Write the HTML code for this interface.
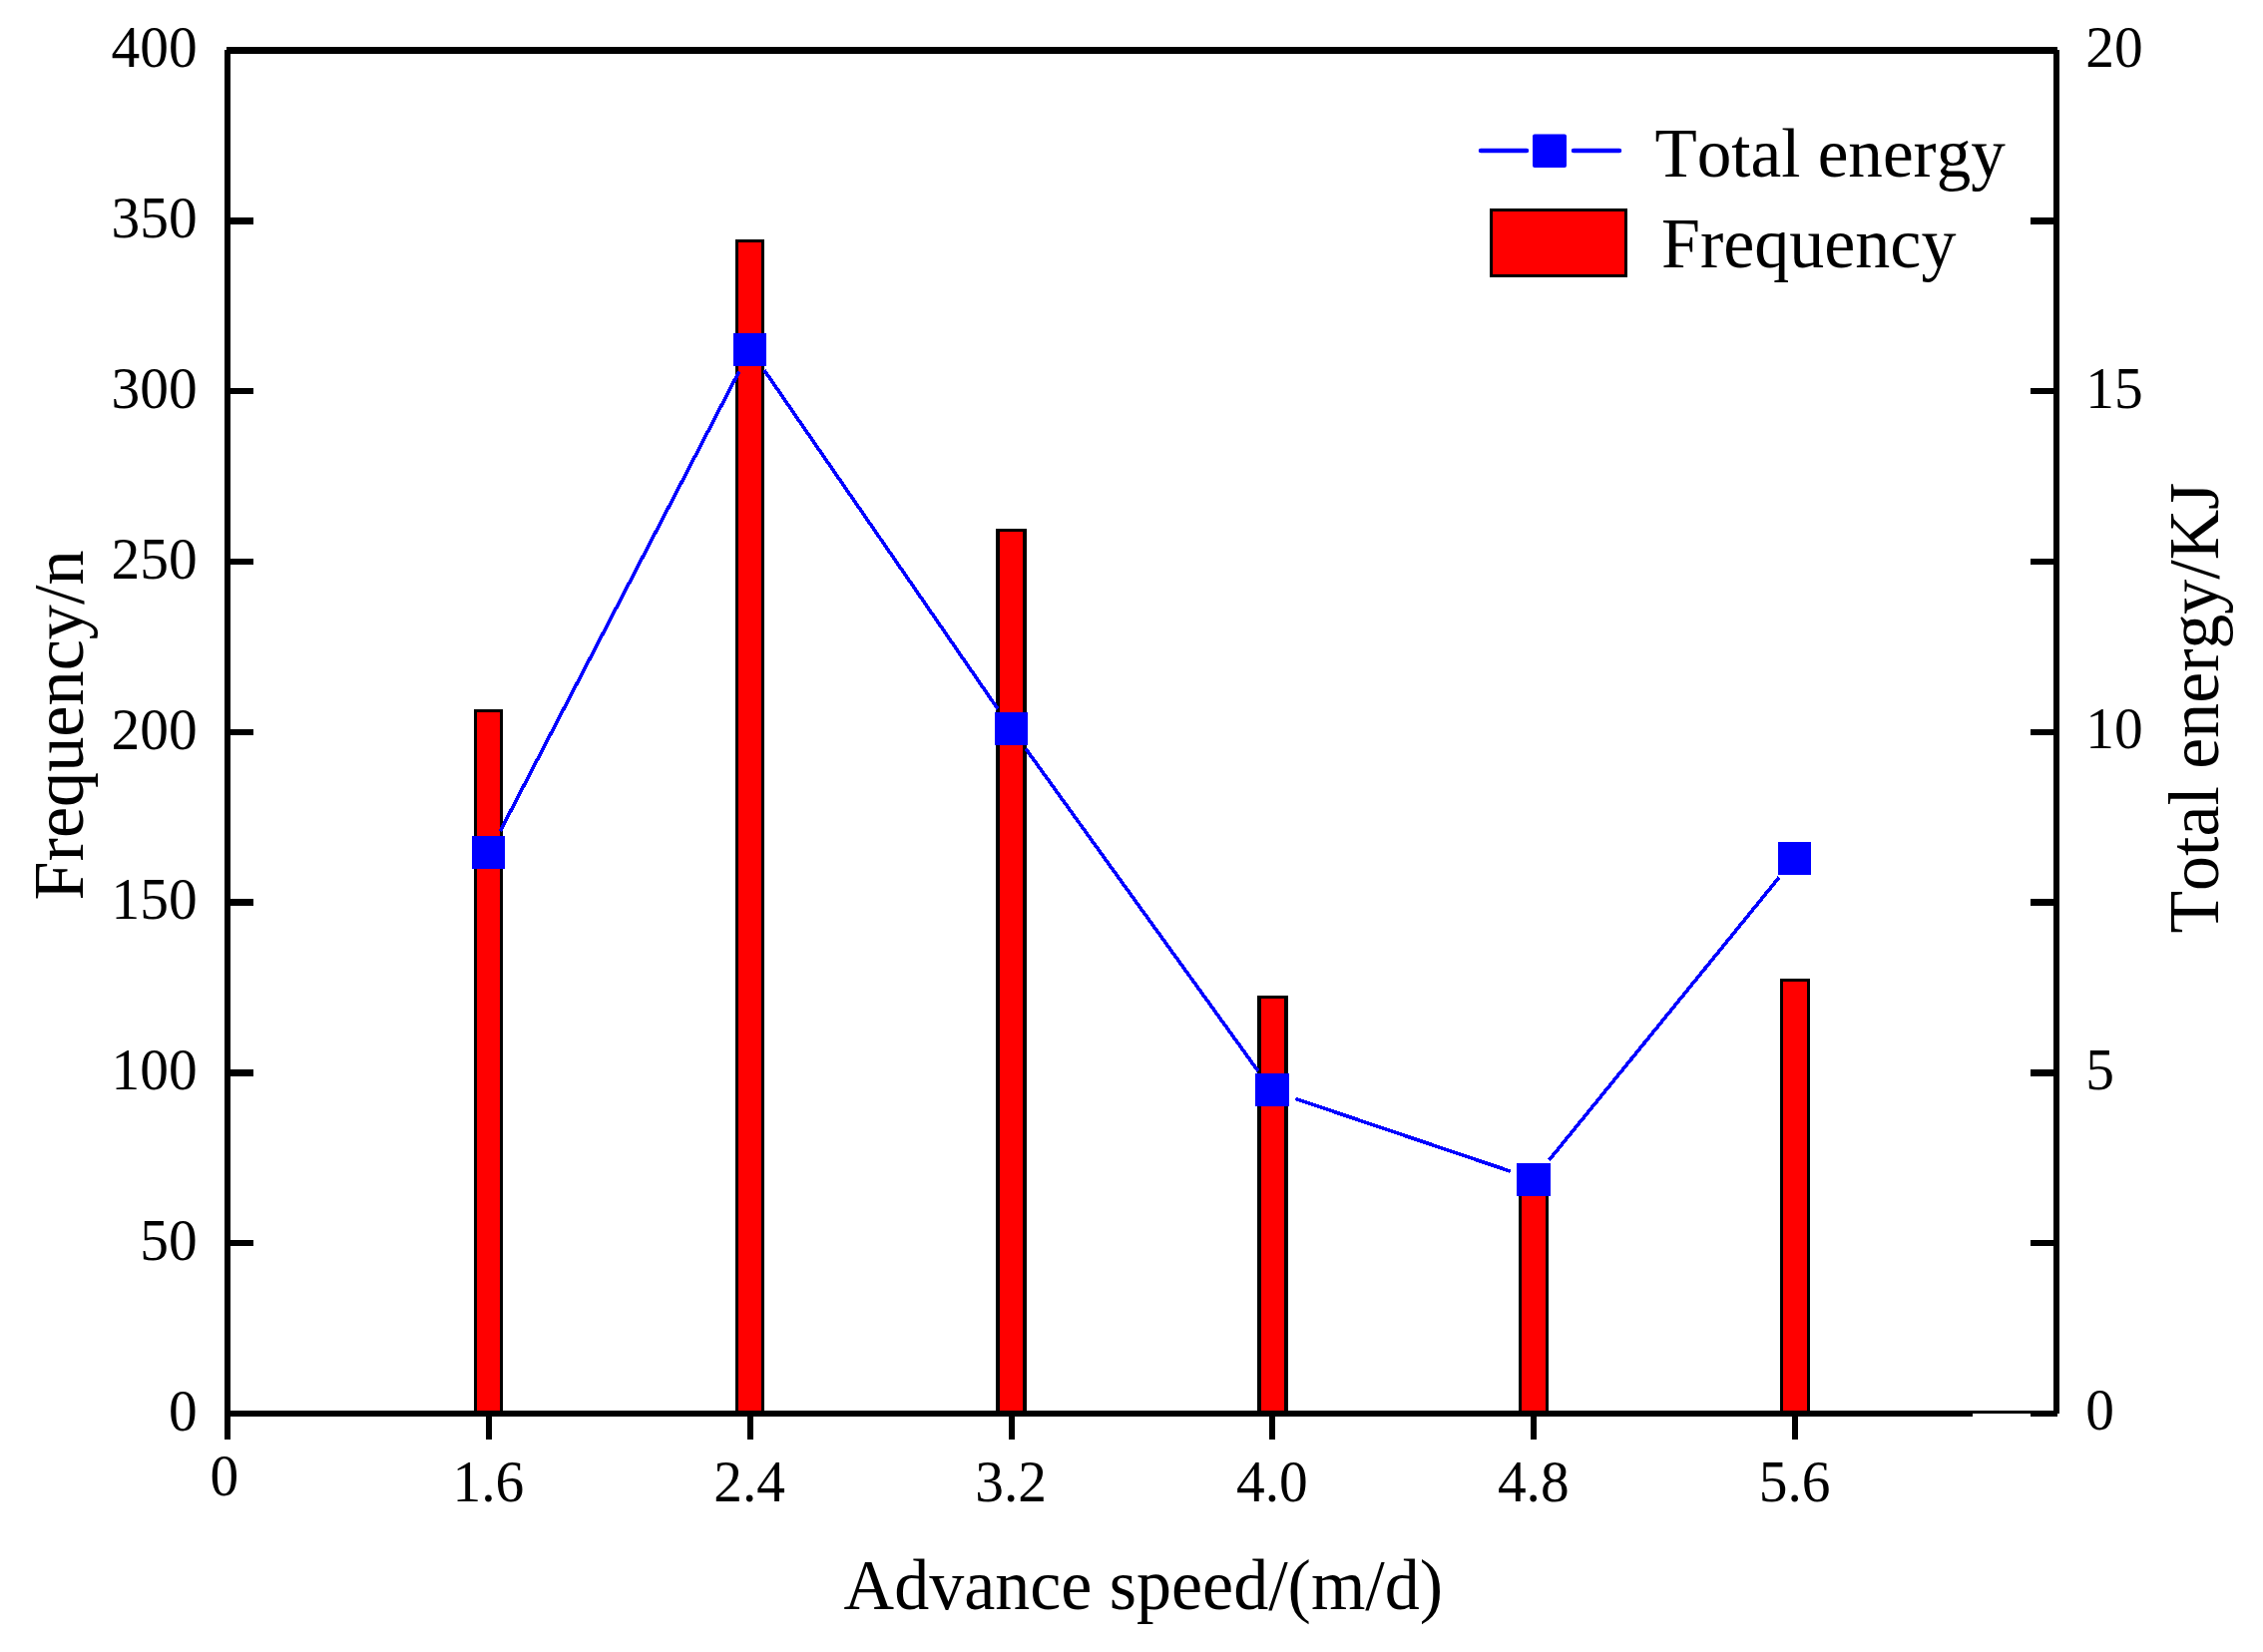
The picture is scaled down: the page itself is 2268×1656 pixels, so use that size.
<!DOCTYPE html>
<html lang="en"><head><meta charset="utf-8"><title>Frequency and total energy vs advance speed</title>
<style>html,body{margin:0;padding:0;background:#fff}body{width:2268px;height:1656px;overflow:hidden}svg{display:block}text{font-kerning:none;font-family:"Liberation Serif","Times New Roman",serif;fill:#000}</style>
</head><body>
<svg width="2268" height="1656" viewBox="0 0 2268 1656">
<rect width="2268" height="1656" fill="#fff"/>
<g shape-rendering="crispEdges">
<rect x="475.0" y="711.0" width="29.0" height="706.0" fill="#000"/>
<rect x="478.0" y="714.0" width="23.0" height="703.0" fill="#f00"/>
<rect x="737.0" y="240.0" width="29.0" height="1177.0" fill="#000"/>
<rect x="740.0" y="243.0" width="23.0" height="1174.0" fill="#f00"/>
<rect x="998.0" y="530.0" width="31.0" height="887.0" fill="#000"/>
<rect x="1001.5" y="533.0" width="23.5" height="884.0" fill="#f00"/>
<rect x="1260.0" y="998.0" width="31.0" height="419.0" fill="#000"/>
<rect x="1264.0" y="1001.0" width="23.0" height="416.0" fill="#f00"/>
<rect x="1522.0" y="1182.0" width="29.5" height="235.0" fill="#000"/>
<rect x="1525.0" y="1185.0" width="23.5" height="232.0" fill="#f00"/>
<rect x="1784.0" y="981.0" width="30.0" height="436.0" fill="#000"/>
<rect x="1787.0" y="984.0" width="24.0" height="433.0" fill="#f00"/>
</g>
<g fill="#000" shape-rendering="crispEdges">
<rect x="225" y="50" width="6" height="1393"/>
<rect x="227" y="47" width="1835" height="7"/>
<rect x="2058" y="50" width="6" height="1367"/>
<rect x="225" y="1414" width="1837" height="6"/>
<rect x="231" y="218.06" width="23" height="6.5"/>
<rect x="2035" y="218.06" width="23" height="6.5"/>
<rect x="231" y="388.88" width="23" height="6.5"/>
<rect x="2035" y="388.88" width="23" height="6.5"/>
<rect x="231" y="559.69" width="23" height="6.5"/>
<rect x="2035" y="559.69" width="23" height="6.5"/>
<rect x="231" y="730.50" width="23" height="6.5"/>
<rect x="2035" y="730.50" width="23" height="6.5"/>
<rect x="231" y="901.31" width="23" height="6.5"/>
<rect x="2035" y="901.31" width="23" height="6.5"/>
<rect x="231" y="1072.12" width="23" height="6.5"/>
<rect x="2035" y="1072.12" width="23" height="6.5"/>
<rect x="231" y="1242.94" width="23" height="6.5"/>
<rect x="2035" y="1242.94" width="23" height="6.5"/>
<rect x="486.86" y="1420" width="6" height="23"/>
<rect x="748.71" y="1420" width="6" height="23"/>
<rect x="1010.57" y="1420" width="6" height="23"/>
<rect x="1272.43" y="1420" width="6" height="23"/>
<rect x="1534.29" y="1420" width="6" height="23"/>
<rect x="1796.14" y="1420" width="6" height="23"/>
</g>
<rect x="1977" y="1417" width="58" height="4" fill="#fff" shape-rendering="crispEdges"/>
<g stroke="#00f" stroke-width="3.6" fill="none" shape-rendering="crispEdges">
<line x1="501.3" y1="833.1" x2="740.7" y2="372.5"/>
<line x1="765.9" y1="371.0" x2="999.9" y2="710.6"/>
<line x1="1028.1" y1="750.7" x2="1260.9" y2="1073.7"/>
<line x1="1298.4" y1="1101.4" x2="1513.8" y2="1174.2"/>
<line x1="1552.5" y1="1163.0" x2="1783.0" y2="879.5"/>
</g>
<g fill="#00f" shape-rendering="crispEdges">
<rect x="473" y="838" width="33" height="33"/>
<rect x="735" y="334" width="33" height="33"/>
<rect x="997" y="714" width="33" height="33"/>
<rect x="1258" y="1076" width="34" height="33"/>
<rect x="1520" y="1166" width="34" height="33"/>
<rect x="1782" y="844" width="33" height="33"/>
</g>
<g stroke="#00f" stroke-width="4.5" stroke-linecap="round"><line x1="1484" y1="151" x2="1530" y2="151"/><line x1="1577" y1="151" x2="1623" y2="151"/></g>
<rect x="1536" y="134.5" width="34" height="33.5" rx="2" fill="#00f"/>
<rect x="1494.5" y="210.5" width="135" height="66" fill="#f00" stroke="#000" stroke-width="3" shape-rendering="crispEdges"/>
<text transform="translate(1658.4 177) scale(0.988 1.012)" font-size="70">Total energy</text>
<text transform="translate(1665 268.4) scale(1 1.012)" font-size="70">Frequency</text>
<text transform="translate(197.7 1433.8) scale(0.990 1.035)" text-anchor="end" font-size="58">0</text>
<text transform="translate(197.7 1263.0) scale(0.990 1.035)" text-anchor="end" font-size="58">50</text>
<text transform="translate(197.7 1092.2) scale(0.990 1.035)" text-anchor="end" font-size="58">100</text>
<text transform="translate(197.7 921.4) scale(0.990 1.035)" text-anchor="end" font-size="58">150</text>
<text transform="translate(197.7 750.5) scale(0.990 1.035)" text-anchor="end" font-size="58">200</text>
<text transform="translate(197.7 579.7) scale(0.990 1.035)" text-anchor="end" font-size="58">250</text>
<text transform="translate(197.7 408.9) scale(0.990 1.035)" text-anchor="end" font-size="58">300</text>
<text transform="translate(197.7 238.1) scale(0.990 1.035)" text-anchor="end" font-size="58">350</text>
<text transform="translate(197.7 67.3) scale(0.990 1.035)" text-anchor="end" font-size="58">400</text>
<text transform="translate(2090.2 1433.4) scale(0.990 1.035)" text-anchor="start" font-size="58">0</text>
<text transform="translate(2090.2 1091.8) scale(0.990 1.035)" text-anchor="start" font-size="58">5</text>
<text transform="translate(2090.2 750.1) scale(0.990 1.035)" text-anchor="start" font-size="58">10</text>
<text transform="translate(2090.2 408.5) scale(0.990 1.035)" text-anchor="start" font-size="58">15</text>
<text transform="translate(2090.2 66.9) scale(0.990 1.035)" text-anchor="start" font-size="58">20</text>
<text transform="translate(224.8 1499.0) scale(0.990 1.035)" text-anchor="middle" font-size="58">0</text>
<text transform="translate(489.4 1505.2) scale(0.990 1.035)" text-anchor="middle" font-size="58">1.6</text>
<text transform="translate(751.2 1505.2) scale(0.990 1.035)" text-anchor="middle" font-size="58">2.4</text>
<text transform="translate(1013.1 1505.2) scale(0.990 1.035)" text-anchor="middle" font-size="58">3.2</text>
<text transform="translate(1274.9 1505.2) scale(0.990 1.035)" text-anchor="middle" font-size="58">4.0</text>
<text transform="translate(1536.8 1505.2) scale(0.990 1.035)" text-anchor="middle" font-size="58">4.8</text>
<text transform="translate(1798.6 1505.2) scale(0.990 1.035)" text-anchor="middle" font-size="58">5.6</text>
<text transform="translate(845.6 1613.4) scale(1 1.012)" font-size="70">Advance speed/(m/d)</text>
<text transform="translate(82.6 902.6) rotate(-90) scale(1.004 1.022)" font-size="70">Frequency/n</text>
<text transform="translate(2223.1 935.6) rotate(-90) scale(0.998 1.018)" font-size="70">Total energy/KJ</text>
</svg></body></html>
